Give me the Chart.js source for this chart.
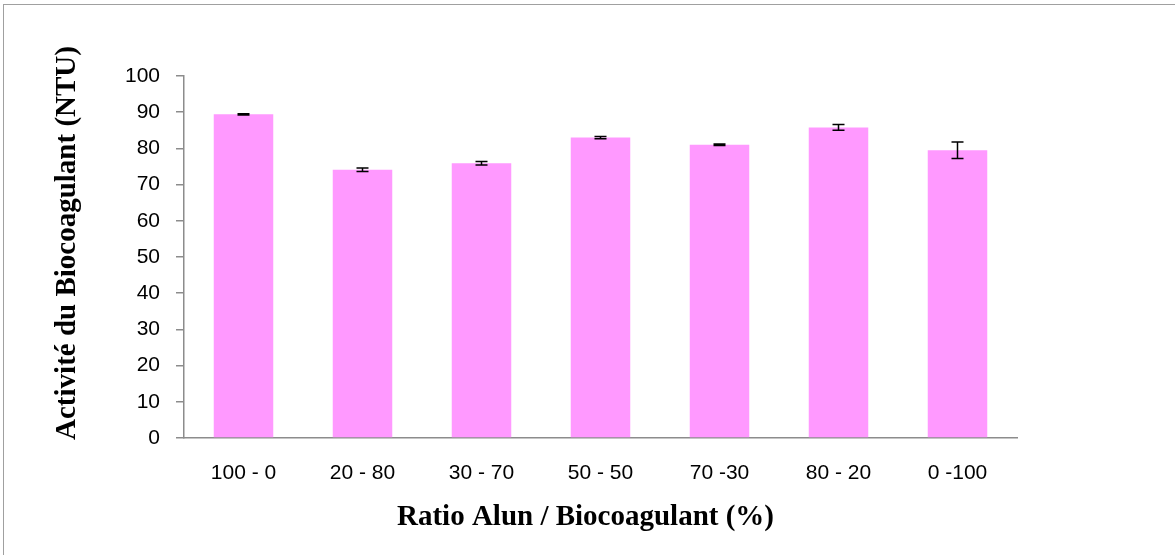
<!DOCTYPE html>
<html>
<head>
<meta charset="utf-8">
<script src="https://cdn.jsdelivr.net/npm/chart.js@4"></script>
<style>
    body { margin: 0; background: #fff; }
    #wrap { position: relative; width: 1175px; height: 555px; }
    #frame { position: absolute; left: 3px; top: 4px; right: 0; bottom: 0; border-top: 1px solid #a0a0a0; border-left: 1px solid #a0a0a0; }
    canvas { position: absolute; left: 0; top: 0; }
</style>
</head>
<body>
<div id="wrap">
    <div id="frame"></div>
    <canvas id="myChart" width="1175" height="555"></canvas>
</div>
<script>
var Ratios = ['100 - 0', '20 - 80', '30 - 70', '50 - 50', '70 -30', '80 - 20', '0 -100'];
var Activite = [89.4, 74.1, 75.9, 83.0, 81.0, 85.8, 79.5];
var Ecart = [0.2, 0.5, 0.5, 0.3, 0.2, 0.8, 2.3];
var YTicks = [0, 10, 20, 30, 40, 50, 60, 70, 80, 90, 100];
var XTitle = 'Ratio Alun / Biocoagulant (%)';
var YTitle = 'Activité du Biocoagulant (NTU)';

// draw the error bars through the y scale
var errorBars = {
    id: 'errorBars',
    afterDatasetsDraw: function (chart) {
        var ctx = chart.ctx;
        var yScale = chart.scales.y;
        var meta = chart.getDatasetMeta(0);
        ctx.save();
        ctx.strokeStyle = '#000';
        ctx.lineWidth = 1.5;
        for (var i = 0; i < meta.data.length; i++) {
            var x = meta.data[i].x;
            var top = yScale.getPixelForValue(Activite[i] + Ecart[i]);
            var bottom = yScale.getPixelForValue(Activite[i] - Ecart[i]);
            ctx.beginPath();
            ctx.moveTo(x, top); ctx.lineTo(x, bottom);
            ctx.moveTo(x - 6, top); ctx.lineTo(x + 6, top);
            ctx.moveTo(x - 6, bottom); ctx.lineTo(x + 6, bottom);
            ctx.stroke();
        }
        ctx.restore();
    }
};

// axis titles, placed a bit off-centre like the original
var axisTitles = {
    id: 'axisTitles',
    afterDraw: function (chart) {
        var ctx = chart.ctx;
        var area = chart.chartArea;
        ctx.save();
        ctx.fillStyle = '#000';
        ctx.font = 'bold 29px "Liberation Serif"';
        ctx.textAlign = 'center';
        ctx.textBaseline = 'middle';
        ctx.fillText(XTitle, (area.left + area.right) / 2 - 15, 518);
        ctx.translate(68, (area.top + area.bottom) / 2 - 14);
        ctx.rotate(-Math.PI / 2);
        ctx.fillText(YTitle, 0, 0);
        ctx.restore();
    }
};

var ctx = document.getElementById('myChart');
var barGraph = new Chart(ctx, {
    type: 'bar',
    data: {
        labels: Ratios,
        datasets: [{
            label: 'Activité',
            data: Activite,
            backgroundColor: '#ff99ff',
            borderWidth: 0,
            categoryPercentage: 1,
            barPercentage: 0.5
        }]
    },
    options: {
        responsive: false,
        animation: false,
        layout: { padding: { left: 0, right: 158, top: 76, bottom: 0 } },
        plugins: { legend: { display: false }, tooltip: { enabled: false } },
        scales: {
            x: {
                grid: { display: false, drawTicks: false },
                border: { display: true, color: '#8c8c8c', width: 1.5 },
                ticks: { color: '#000', padding: 23, font: { family: 'Liberation Sans', size: 21 } },
                afterFit: function (scale) { scale.height = 117; }
            },
            y: {
                min: 0,
                max: 100,
                afterBuildTicks: function (scale) {
                    scale.ticks = YTicks.map(function (v) { return { value: v }; });
                },
                grid: { drawOnChartArea: false, drawTicks: true, tickLength: 8, color: '#8c8c8c', lineWidth: 1.5 },
                border: { display: true, color: '#8c8c8c', width: 1.5 },
                ticks: { color: '#000', padding: 16, font: { family: 'Liberation Sans', size: 21 } },
                afterFit: function (scale) { scale.width = 184; }
            }
        }
    },
    plugins: [errorBars, axisTitles]
});
</script>
</body>
</html>
